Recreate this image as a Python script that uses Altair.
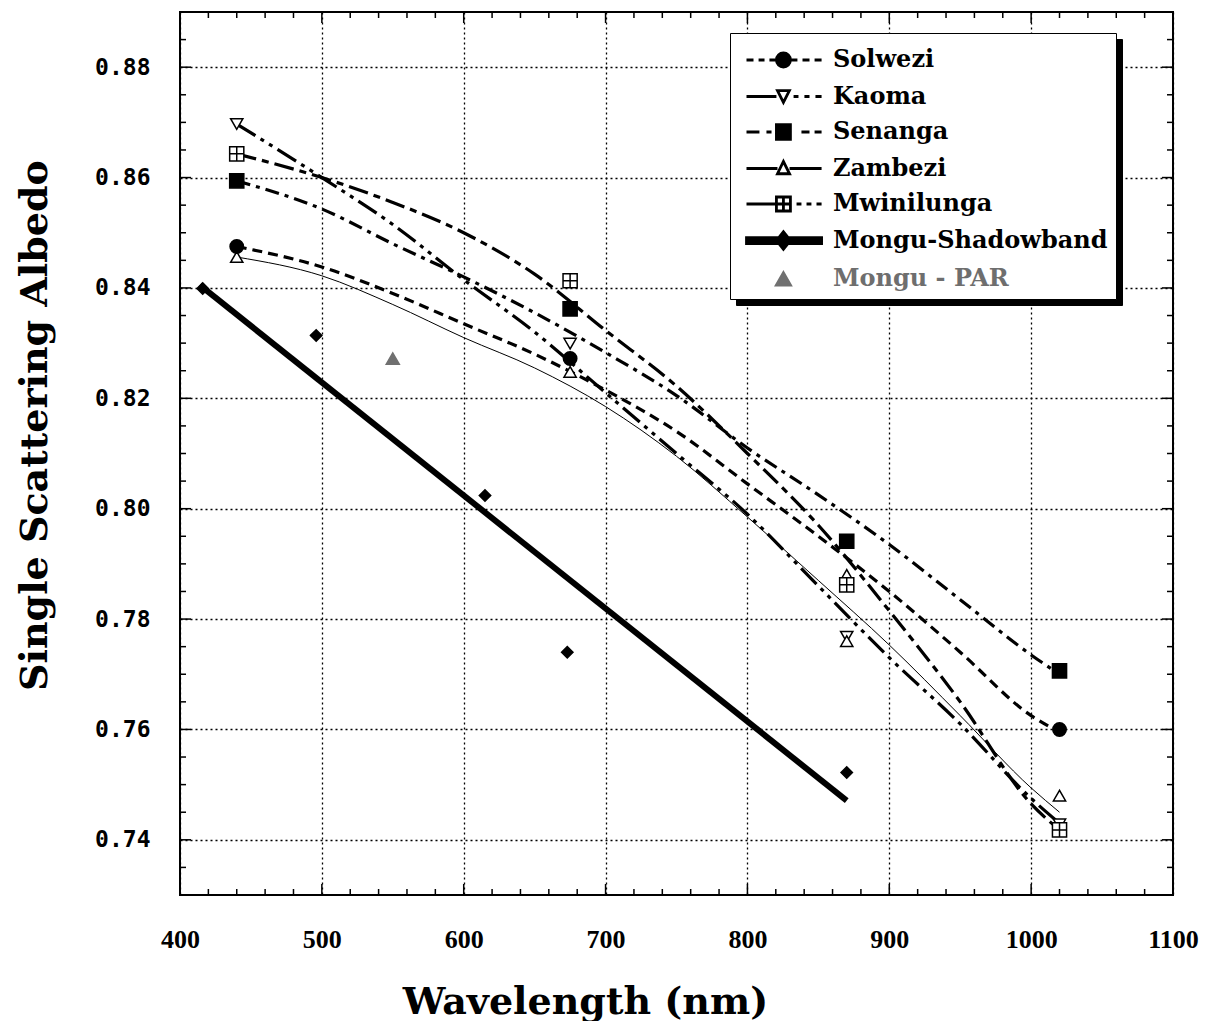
import altair as alt
import pandas as pd

# ---------------- data ----------------
line_nm = [440, 500, 550, 600, 650, 700, 750, 800, 850, 900, 950, 1000, 1020]
solwezi_line = [0.8475, 0.8438, 0.8390, 0.8335, 0.8280, 0.8215, 0.8140, 0.8045, 0.7950, 0.7850, 0.7740, 0.7625, 0.7595]
kaoma_line = [0.8697, 0.8600, 0.8515, 0.8415, 0.8320, 0.8210, 0.8100, 0.7990, 0.7860, 0.7730, 0.7610, 0.7475, 0.7430]
senanga_line = [0.8594, 0.8543, 0.8480, 0.8420, 0.8355, 0.8283, 0.8205, 0.8110, 0.8025, 0.7935, 0.7835, 0.7735, 0.7700]
zambezi_line = [0.8456, 0.8422, 0.8370, 0.8310, 0.8255, 0.8185, 0.8095, 0.7985, 0.7870, 0.7753, 0.7625, 0.7494, 0.7450]
mwinilunga_line = [0.8643, 0.8600, 0.8555, 0.8500, 0.8425, 0.8323, 0.8222, 0.8100, 0.7970, 0.7815, 0.7650, 0.7465, 0.7418]

solwezi_pts_nm = [440, 675, 1020]
solwezi_pts = [0.8475, 0.8272, 0.7600]
kaoma_pts_nm = [440, 675, 870, 1020]
kaoma_pts = [0.8697, 0.8299, 0.7768, 0.7428]
senanga_pts_nm = [440, 675, 870, 1020]
senanga_pts = [0.8594, 0.8362, 0.7941, 0.7706]
zambezi_pts_nm = [440, 675, 870, 870, 1020]
zambezi_pts = [0.8456, 0.8248, 0.7760, 0.7880, 0.7480]
mwinilunga_pts_nm = [440, 675, 870, 1020]
mwinilunga_pts = [0.8643, 0.8413, 0.7862, 0.7418]

shadow_pts_nm = [416, 496, 615, 673, 870]
shadow_pts = [0.8399, 0.8314, 0.8024, 0.7740, 0.7522]
shadow_fit_nm = [414, 870]
shadow_fit = [0.8405, 0.7471]

par_nm = [550]
par_pts = [0.8272]

site_names = ["Solwezi", "Kaoma", "Senanga", "Zambezi", "Mwinilunga",
              "Mongu-Shadowband", "Mongu - PAR"]

x_tick_labels = [400, 500, 600, 700, 800, 900, 1000, 1100]
y_tick_labels = [0.74, 0.76, 0.78, 0.80, 0.82, 0.84, 0.86, 0.88]
x_minor = [v for v in range(400, 1101, 20) if v % 100 != 0]
y_minor = [round(0.73 + 0.005 * k, 3) for k in range(1, 32)]
y_minor = [v for v in y_minor if round(v * 100, 3) % 2 != 0]

# ---------------- layout ----------------
W, H = 993, 883
SERIF = "DejaVu Serif"

xscale = alt.Scale(domain=[400, 1100], nice=False, zero=False)
yscale = alt.Scale(domain=[0.73, 0.89], nice=False, zero=False)

x_axis = alt.Axis(values=x_tick_labels, title="Wavelength (nm)", format="d",
                  labelFont="Liberation Serif", labelFontSize=26, labelFontWeight="bold",
                  labelPadding=31, labelFlush=False,
                  titleFont=SERIF, titleFontSize=38, titleFontWeight="bold",
                  titleX=405, titleY=118, titleAlign="center", titleBaseline="alphabetic")
y_axis = alt.Axis(values=y_tick_labels, title="Single Scattering Albedo", format=".2f",
                  labelFont="DejaVu Sans Mono", labelFontSize=23, labelFontWeight="bold",
                  labelPadding=30, labelFlush=False,
                  titleFont=SERIF, titleFontSize=38, titleFontWeight="bold",
                  titleX=-145, titleY=413, titleAlign="center", titleBaseline="middle",
                  titleAngle=270)


def X(f):
    return alt.X(f, type="quantitative", scale=xscale, axis=x_axis)


def Y(f):
    return alt.Y(f, type="quantitative", scale=yscale, axis=y_axis)


layers = []

# site curves
line_specs = [
    ("Solwezi", solwezi_line, [10, 6], 3.2),
    ("Kaoma", kaoma_line, [22, 6, 4, 6, 4, 6], 3.2),
    ("Senanga", senanga_line, [14, 6, 4, 6], 3.2),
    ("Zambezi", zambezi_line, None, 1),
    ("Mwinilunga", mwinilunga_line, [20, 6, 7, 6], 3.2),
]
for name, vals, dash, sw in line_specs:
    df = pd.DataFrame({"nm": line_nm, "ssa": vals})
    kw = dict(color="black", strokeWidth=sw, interpolate="monotone")
    if dash:
        kw["strokeDash"] = dash
    layers.append(alt.Chart(df).mark_line(**kw).encode(x=X("nm"), y=Y("ssa")))

# Mongu shadowband fit line
layers.append(alt.Chart(pd.DataFrame({"nm": shadow_fit_nm, "ssa": shadow_fit}))
              .mark_line(color="black", strokeWidth=6).encode(x=X("nm"), y=Y("ssa")))

plus_square = "M-1,-1H1V1H-1Z M0,-1V1 M-1,0H1"
marker_specs = [
    (solwezi_pts_nm, solwezi_pts, "circle", "black", "black", 180),
    (kaoma_pts_nm, kaoma_pts, "triangle-down", "white", "black", 150),
    (senanga_pts_nm, senanga_pts, "square", "black", "black", 200),
    (zambezi_pts_nm, zambezi_pts, "triangle-up", "white", "black", 150),
    (mwinilunga_pts_nm, mwinilunga_pts, plus_square, "white", "black", 200),
    (shadow_pts_nm, shadow_pts, "diamond", "black", "black", 130),
    (par_nm, par_pts, "triangle-up", "#707070", "#707070", 170),
]
for nms, vals, shape, fill, stroke, size in marker_specs:
    df = pd.DataFrame({"nm": nms, "ssa": vals})
    layers.append(alt.Chart(df).mark_point(shape=shape, filled=True, fill=fill, stroke=stroke,
                                           strokeWidth=1.5, size=size, opacity=1)
                  .encode(x=X("nm"), y=Y("ssa")))

# ticks (inward, all four sides)
xt_major = pd.DataFrame({"v": x_tick_labels})
xt_minor = pd.DataFrame({"v": x_minor})
yt_major = pd.DataFrame({"v": y_tick_labels})
yt_minor = pd.DataFrame({"v": y_minor})
for df, L in [(xt_major, 11), (xt_minor, 6)]:
    layers.append(alt.Chart(df).mark_rule(color="black", strokeWidth=1.5)
                  .encode(x=X("v"), y=alt.value(H), y2=alt.value(H - L)))
    layers.append(alt.Chart(df).mark_rule(color="black", strokeWidth=1.5)
                  .encode(x=X("v"), y=alt.value(0), y2=alt.value(L)))
for df, L in [(yt_major, 11), (yt_minor, 6)]:
    layers.append(alt.Chart(df).mark_rule(color="black", strokeWidth=1.5)
                  .encode(y=Y("v"), x=alt.value(0), x2=alt.value(L)))
    layers.append(alt.Chart(df).mark_rule(color="black", strokeWidth=1.5)
                  .encode(y=Y("v"), x=alt.value(W), x2=alt.value(W - L)))

# legend (symbols drawn as line + marker paths)
legend_paths = [
    "M-0.6,0H-0.2 M0.09,0H0.43 M0.71,0H1.11 M1.91,0A0.4,0.4,0,1,1,1.11,0A0.4,0.4,0,1,1,1.91,0Z M1.91,0H2.31 M2.6,0H3.0 M3.29,0H3.69",
    "M-0.6,0H1.11 M1.17,-0.34L1.85,-0.34L1.51,0.34Z M2.09,0H2.37 M2.71,0H3.0 M3.34,0H3.69",
    "M-0.6,0H0.14 M0.54,0H0.83 M1.11,-0.42H1.91V0.42H1.11Z M2.54,0H3.0 M3.29,0H3.69",
    "M-0.6,0H1.17 M1.17,0.3L1.86,0.3L1.51,-0.4Z M1.86,0H3.69",
    "M-0.6,0H1.11 M1.11,-0.4H1.91V0.4H1.11Z M1.51,-0.4V0.4 M1.11,0H1.91 M2.26,0H2.54 M2.83,0H3.11 M3.4,0H3.69",
    "M-0.6,-0.17H3.69V0.17H-0.6Z M1.11,0L1.51,-0.5L1.91,0L1.51,0.5Z",
    "M1.11,0.35L1.91,0.35L1.51,-0.35Z",
]
legend_fill = ["black", "white", "black", "white", "white", "black", "#707070"]
legend_stroke = ["black", "black", "black", "black", "black", "black", "#707070"]
# a copy of the names (zero-width prefix) used only for the legend's drop shadow box
shadow_names = ["\u200b" + s for s in site_names]

common_leg = dict(title=None, orient="none", padding=8,
                  symbolSize=1225, labelFont=SERIF, labelFontSize=24, labelFontWeight="bold",
                  labelLimit=500)

leg = alt.Legend(legendX=550, legendY=21, strokeColor="black", fillColor="white",
                 symbolStrokeWidth=2.8, symbolOpacity=1, zindex=2,
                 labelOffset=57, rowPadding=4.5,
                 labelColor=alt.ExprRef(expr="datum.value === 'Mongu - PAR' ? '#6e6e6e' : '#000000'"),
                 **common_leg)
shadow_leg = alt.Legend(legendX=556, legendY=27, strokeColor="black", fillColor="black",
                        symbolOpacity=0, labelColor="black", zindex=1,
                        labelExpr="' '", labelOffset=333, rowPadding=6.7, **common_leg)

leg_df = pd.DataFrame({"site": site_names, "shadow": shadow_names,
                       "nm": [440] * 7, "ssa": [0.84] * 7})
layers.append(alt.Chart(leg_df).mark_point(filled=True, strokeWidth=2.8).encode(
    x=X("nm"), y=Y("ssa"),
    shape=alt.Shape("site:N", scale=alt.Scale(domain=site_names, range=legend_paths), legend=leg),
    fill=alt.Fill("site:N", scale=alt.Scale(domain=site_names, range=legend_fill), legend=leg),
    stroke=alt.Stroke("site:N", scale=alt.Scale(domain=site_names, range=legend_stroke), legend=leg),
    opacity=alt.Opacity("shadow:O", scale=alt.Scale(domain=shadow_names, range=[0, 0]), legend=shadow_leg),
))

chart = alt.layer(*layers).properties(
    width=W, height=H,
    autosize=alt.AutoSizeParams(type="none"),
    padding={"left": 180, "top": 12, "right": 36, "bottom": 126},
    background="white",
).configure_view(stroke="black", strokeWidth=2).configure_axis(
    grid=True, gridColor="black", gridDash=[2, 3], gridWidth=1.3,
    ticks=False, domain=False, labelColor="black", titleColor="black",
)

chart.save("out.html", embed_options={"renderer": "svg", "actions": False})
